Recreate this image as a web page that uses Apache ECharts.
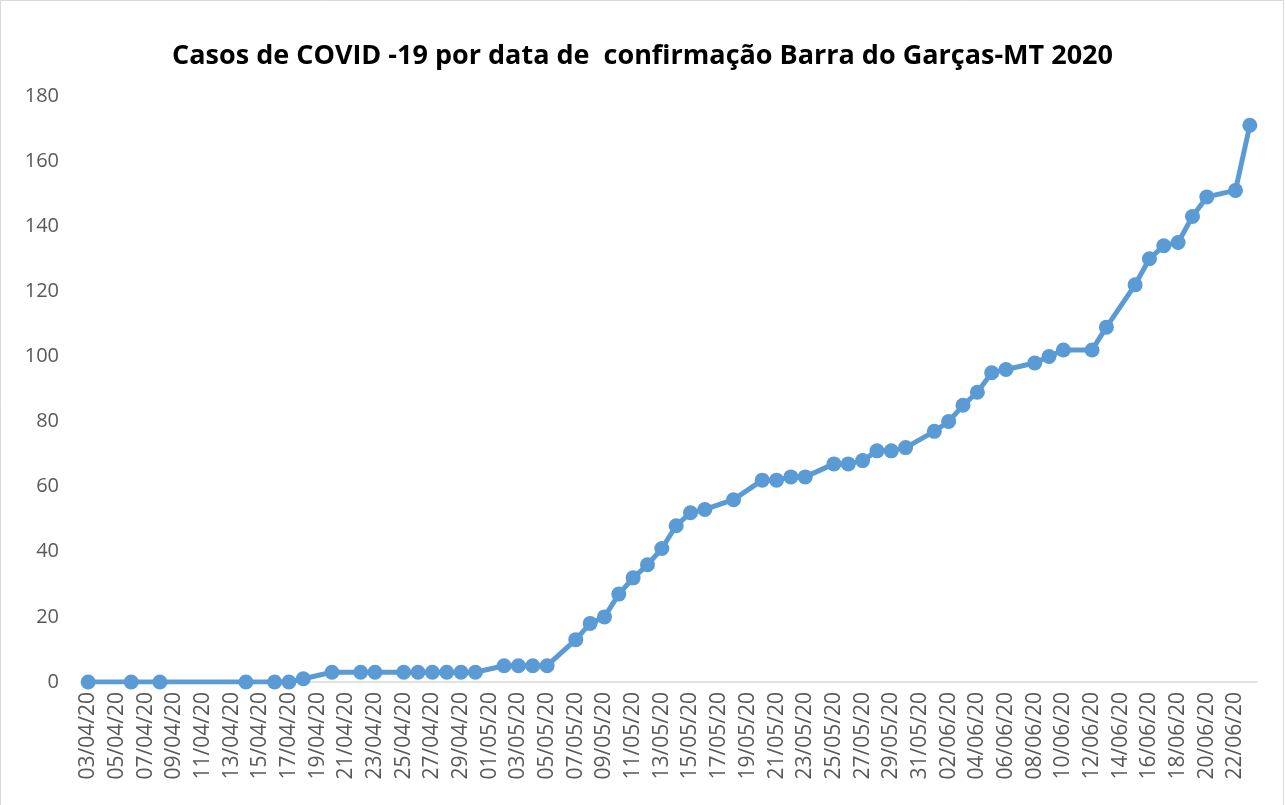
<!DOCTYPE html>
<html>
<head>
<meta charset="utf-8">
<script src="https://cdn.jsdelivr.net/npm/echarts@6/dist/echarts.min.js"></script>
<style>
  html, body { margin: 0; padding: 0; background: #fff; }
  #chart { width: 1285px; height: 805px; }
</style>
</head>
<body>
<div id="chart"></div>
<script>
var titleText = 'Casos de COVID -19 por data de  confirmação Barra do Garças-MT 2020';

// dias com casos registrados (o resto fica vazio no eixo de datas)
var pointDates = [
    '03/04/20', '06/04/20', '08/04/20', '14/04/20', '16/04/20', '17/04/20', '18/04/20',
    '20/04/20', '22/04/20', '23/04/20', '25/04/20', '26/04/20', '27/04/20', '28/04/20',
    '29/04/20', '30/04/20', '02/05/20', '03/05/20', '04/05/20', '05/05/20', '07/05/20',
    '08/05/20', '09/05/20', '10/05/20', '11/05/20', '12/05/20', '13/05/20', '14/05/20',
    '15/05/20', '16/05/20', '18/05/20', '20/05/20', '21/05/20', '22/05/20', '23/05/20',
    '25/05/20', '26/05/20', '27/05/20', '28/05/20', '29/05/20', '30/05/20', '01/06/20',
    '02/06/20', '03/06/20', '04/06/20', '05/06/20', '06/06/20', '08/06/20', '09/06/20',
    '10/06/20', '12/06/20', '13/06/20', '15/06/20', '16/06/20', '17/06/20', '18/06/20',
    '19/06/20', '20/06/20', '22/06/20', '23/06/20'
];
var pointCases = [
    0, 0, 0, 0, 0, 0, 1,
    3, 3, 3, 3, 3, 3, 3,
    3, 3, 5, 5, 5, 5, 13,
    18, 20, 27, 32, 36, 41, 48,
    52, 53, 56, 62, 62, 63, 63,
    67, 67, 68, 71, 71, 72, 77,
    80, 85, 89, 95, 96, 98, 100,
    102, 102, 109, 122, 130, 134, 135,
    143, 149, 151, 171
];
var yTicks = [0, 20, 40, 60, 80, 100, 120, 140, 160, 180];

function pad(n) { return n < 10 ? '0' + n : '' + n; }

// todos os dias de 03/04 a 23/06
var allDays = [];
var d = new Date(2020, 3, 3);
var end = new Date(2020, 5, 23);
while (d <= end) {
    allDays.push(pad(d.getDate()) + '/' + pad(d.getMonth() + 1) + '/20');
    d.setDate(d.getDate() + 1);
}

var lookup = {};
pointDates.forEach(function (k, i) { lookup[k] = pointCases[i]; });
var seriesData = allDays.map(function (k) {
    return lookup.hasOwnProperty(k) ? lookup[k] : null;
});

var myChart = echarts.init(document.getElementById('chart'));
var option = {
    backgroundColor: '#fff',
    title: {
        text: titleText,
        left: 'center',
        top: 38,
        textStyle: {
            fontFamily: 'Open Sans',
            fontWeight: 'bold',
            fontSize: 27,
            color: '#000'
        }
    },
    graphic: [{
        type: 'rect',
        shape: { x: 0.5, y: 0.5, width: 1283, height: 820 },
        style: { fill: 'none', stroke: '#d9d9d9', lineWidth: 1 }
    }],
    grid: {
        left: 81,
        right: 28,
        top: 96,
        bottom: 123
    },
    xAxis: {
        type: 'category',
        data: allDays,
        boundaryGap: true,
        axisLine: { lineStyle: { color: '#d9d9d9', width: 1.5 } },
        axisTick: { interval: 1, length: 7, lineStyle: { color: '#d9d9d9', width: 1.5 } },
        axisLabel: {
            interval: 1,
            rotate: 90,
            margin: 10,
            color: '#595959',
            fontFamily: 'Open Sans',
            fontSize: 21
        }
    },
    yAxis: {
        type: 'value',
        min: yTicks[0],
        max: yTicks[yTicks.length - 1],
        interval: 20,
        axisLine: { show: false },
        axisTick: { show: false },
        splitLine: { show: false },
        axisLabel: {
            margin: 22,
            color: '#595959',
            fontFamily: 'Open Sans',
            fontSize: 20
        }
    },
    series: [{
        type: 'line',
        data: seriesData,
        connectNulls: true,
        showAllSymbol: true,
        symbol: 'circle',
        symbolSize: 15,
        lineStyle: { color: '#5b9bd5', width: 5 },
        itemStyle: { color: '#5b9bd5' },
        animation: false
    }]
};
myChart.setOption(option);
</script>
</body>
</html>
